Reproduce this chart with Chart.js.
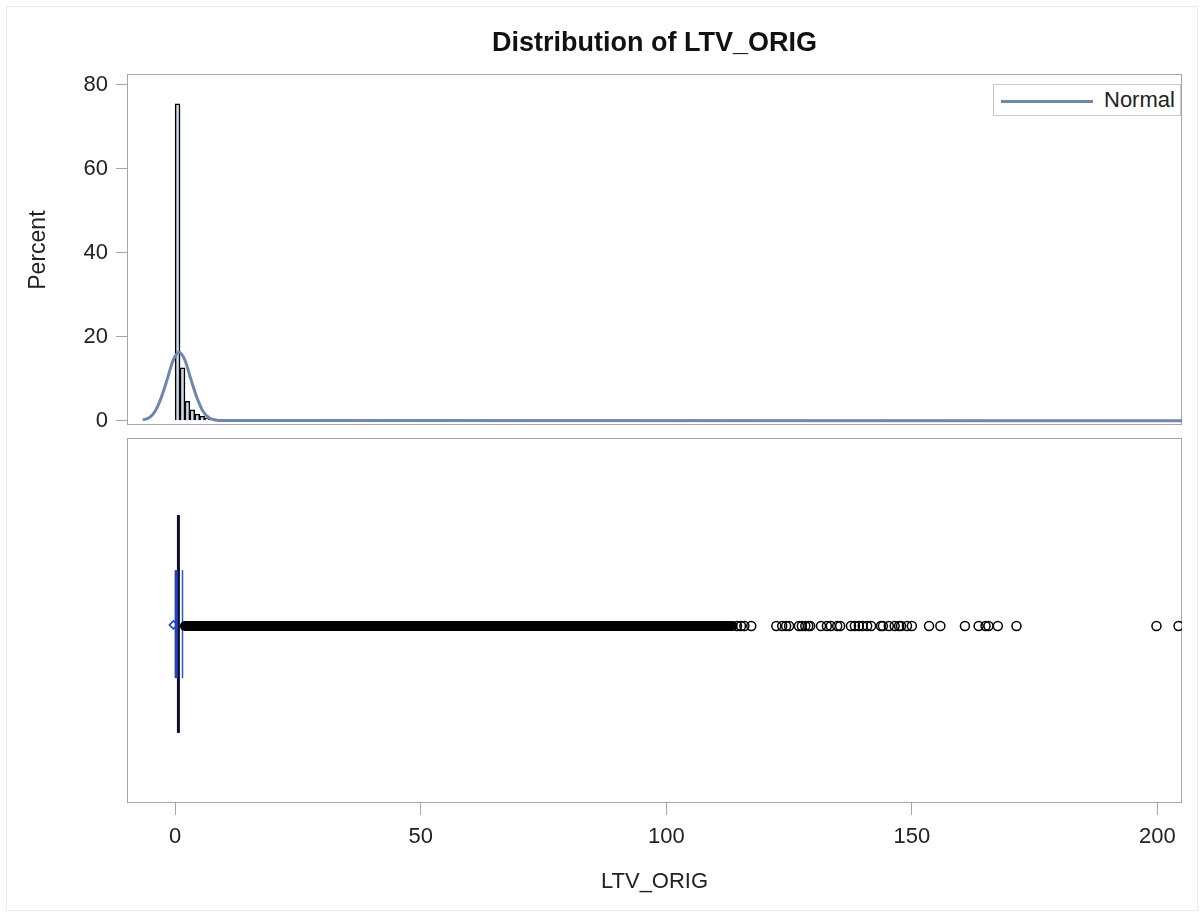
<!DOCTYPE html>
<html>
<head>
<meta charset="utf-8">
<script src="https://cdn.jsdelivr.net/npm/chart.js@4/dist/chart.umd.min.js"></script>
<style>
  body { margin: 0; background: #fff; font-family: "Liberation Sans", Arial, sans-serif; }
  #wrap { position: relative; width: 1203px; height: 913px; overflow: hidden; }
  #outer { position: absolute; left: 6px; top: 6px; width: 1190px; height: 903px; border: 1px solid #ececec; }
  #top { position: absolute; left: 0; top: 0; }
  #bot { position: absolute; left: 0; top: 430px; }
  #legend { position: absolute; left: 993px; top: 84px; width: 188px; height: 32px; box-sizing: border-box;
            border: 1px solid #c8c8c8; background: #fff; color: #222; font-size: 22px; }
  #legend .ln { position: absolute; left: 7px; top: 15px; width: 92px; height: 3px; background: #6f87ab; }
  #legend .tx { position: absolute; left: 110px; top: 2px; line-height: 26px; }
</style>
</head>
<body>
<div id="wrap">
  <div id="outer"></div>
  <canvas id="top" width="1203" height="447"></canvas>
  <canvas id="bot" width="1203" height="483"></canvas>
  <div id="legend"><span class="ln"></span><span class="tx">Normal</span></div>
</div>
<script>
// axis ticks
const xTicks = [0, 50, 100, 150, 200];
const yTicks = [0, 20, 40, 60, 80];

// histogram (bin midpoints, percent)
const histMid = [0.5, 1.5, 2.5, 3.5, 4.5, 5.5, 6.5, 7.5, 8.5];
const histPct = [75.4, 12.6, 4.6, 2.6, 1.6, 1.1, 0.7, 0.5, 0.3];

// fitted normal curve
const normalX = [-6.6, -5.3, -4.1, -2.9, -1.6, -0.4, 0.8, 2.0, 3.2, 4.5, 5.7, 6.9, 8.2, 9.5, 205];
const normalY = [0.2, 0.7, 2.2, 5.3, 9.9, 14.4, 16.3, 14.4, 9.9, 5.3, 2.2, 0.7, 0.2, 0.05, 0];

// box plot
const boxStats = [0.1, 0.35, 1.5];   // q1, median, q3
const boxMean = [-0.35];
const whiskerCap = [0.67];
const outlierBand = [2.0, 113.5];    // outliers so dense they merge
const outliers = [114.4, 115.2, 115.9, 117.3, 122.4, 123.6, 124.4, 125.0, 127.0, 127.6, 128.3, 128.9,
  129.3, 131.5, 132.7, 133.5, 134.8, 135.4, 137.6, 138.4, 139.2, 140.0, 140.9, 141.7, 143.7, 144.1,
  145.3, 146.5, 147.4, 147.8, 149.0, 150.0, 153.5, 155.8, 160.8, 163.6, 165.0, 165.6, 167.5, 171.3,
  199.8, 204.3];

Chart.defaults.font.family = '"Liberation Sans", Arial, sans-serif';
Chart.defaults.color = '#222';

const frameColor = '#a5a5a5';
const xMin = -9.8, xMax = 205;

const frame = {
  id: 'frame',
  beforeDatasetsDraw(chart) {
    const a = chart.chartArea, c = chart.ctx;
    c.save();
    c.strokeStyle = frameColor;
    c.lineWidth = 1;
    c.strokeRect(Math.round(a.left) + 0.5, Math.round(a.top) + 0.5,
      Math.round(a.right - a.left) - 1, Math.round(a.bottom - a.top) - 1);
    c.restore();
  }
};

new Chart(document.getElementById('top'), {
  type: 'bar',
  data: {
    datasets: [
      {
        type: 'line',
        label: 'Normal',
        data: normalX.map((x, i) => ({ x: x, y: normalY[i] })),
        borderColor: '#6f87ab',
        borderWidth: 3,
        pointRadius: 0,
        cubicInterpolationMode: 'monotone',
        order: 0
      },
      {
        label: 'Percent',
        data: histMid.map((x, i) => ({ x: x, y: histPct[i] })),
        backgroundColor: '#cad5e5',
        borderColor: '#000',
        borderWidth: 1.5,
        barPercentage: 1,
        categoryPercentage: 1,
        order: 1
      }
    ]
  },
  options: {
    responsive: false,
    animation: false,
    layout: { autoPadding: false, padding: { left: 0, right: 21, top: 0, bottom: 8 } },
    plugins: {
      legend: { display: false },
      tooltip: { enabled: false },
      title: {
        display: true,
        text: 'Distribution of LTV_ORIG',
        fullSize: false,
        color: '#111',
        font: { size: 27, weight: 'bold' },
        padding: { top: 27, bottom: 15 }
      }
    },
    scales: {
      x: {
        type: 'linear', min: xMin, max: xMax, offset: false,
        display: false,
        grid: { offset: false }
      },
      y: {
        min: -1.2, max: 82.4,
        afterBuildTicks: s => { s.ticks = yTicks.map(v => ({ value: v })); },
        afterFit: s => { s.width = 127; },
        grid: { drawOnChartArea: false, tickLength: 11, color: frameColor },
        border: { display: false },
        ticks: { padding: 8, font: { size: 22 } },
        title: { display: true, text: 'Percent', font: { size: 23 }, padding: { top: 25, bottom: 0 } }
      }
    }
  },
  plugins: [frame]
});

new Chart(document.getElementById('bot'), {
  type: 'scatter',
  data: {
    datasets: [
      {
        type: 'line',
        data: outlierBand.map(x => ({ x: x, y: 48.5 })),
        borderColor: '#000',
        borderWidth: 10,
        borderCapStyle: 'round',
        pointRadius: 0
      },
      {
        data: outliers.map(x => ({ x: x, y: 48.5 })),
        pointRadius: 4.5,
        pointBorderWidth: 1.5,
        borderColor: '#000',
        backgroundColor: 'rgba(255,255,255,0)'
      },
      {
        type: 'line',
        data: [{ x: boxStats[0], y: 34.2 }, { x: boxStats[0], y: 63.8 }],
        borderColor: '#2342b8', borderWidth: 2, pointRadius: 0
      },
      {
        type: 'line',
        data: [{ x: boxStats[1], y: 34.2 }, { x: boxStats[1], y: 63.8 }],
        borderColor: '#2342b8', borderWidth: 2, pointRadius: 0
      },
      {
        type: 'line',
        data: [{ x: boxStats[2], y: 34.2 }, { x: boxStats[2], y: 63.8 }],
        borderColor: '#2a55d0', borderWidth: 1.5, pointRadius: 0
      },
      {
        type: 'line',
        data: [{ x: whiskerCap[0], y: 19.2 }, { x: whiskerCap[0], y: 78.9 }],
        borderColor: '#0a0f2a', borderWidth: 3, pointRadius: 0
      },
      {
        data: boxMean.map(x => ({ x: x, y: 48.8 })),
        pointStyle: 'rectRot',
        pointRadius: 4,
        pointBorderWidth: 1.5,
        borderColor: '#2342b8',
        backgroundColor: 'rgba(255,255,255,0)'
      }
    ]
  },
  options: {
    responsive: false,
    animation: false,
    layout: { autoPadding: false, padding: { left: 127, right: 21, top: 8, bottom: 0 } },
    plugins: { legend: { display: false }, tooltip: { enabled: false } },
    scales: {
      x: {
        type: 'linear', min: xMin, max: xMax,
        afterBuildTicks: s => { s.ticks = xTicks.map(v => ({ value: v })); },
        afterFit: s => { s.height = 110; },
        grid: { drawOnChartArea: false, tickLength: 12, color: frameColor },
        border: { display: false },
        ticks: { padding: 9, maxRotation: 0, font: { size: 22 } },
        title: { display: true, text: 'LTV_ORIG', font: { size: 22 }, padding: { top: 18, bottom: 18 } }
      },
      y: { display: false, min: 0, max: 100 }
    }
  },
  plugins: [frame]
});
</script>
</body>
</html>
